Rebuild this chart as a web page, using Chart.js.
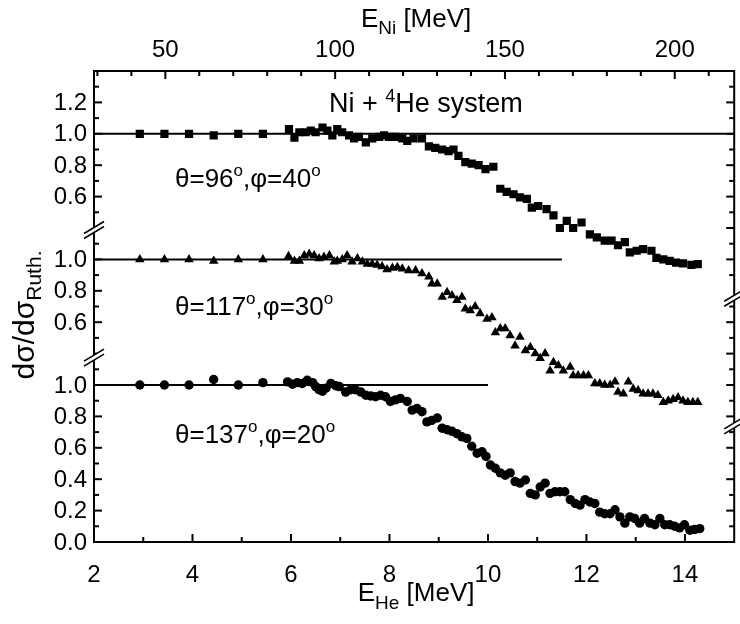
<!DOCTYPE html>
<html><head><meta charset="utf-8">
<script src="https://cdn.jsdelivr.net/npm/chart.js@4.4.1/dist/chart.umd.min.js"></script>
<style>html,body{margin:0;padding:0;background:#fff}canvas{display:block}</style>
</head><body>
<canvas id="c" width="740" height="624"></canvas>
<script>
// ---------- data ----------
const X_MIN = 2, X_MAX = 15;              // E_He range [MeV]
const NI_PER_HE = 14.5;                   // E_Ni / E_He
const X_TICK_LABELS = ['2','4','6','8','10','12','14'];
const X2_TICK_LABELS = ['50','100','150','200'];
const TOP_TICK_LABELS = ['0.6','0.8','1.0','1.2'];
const MID_TICK_LABELS = ['0.6','0.8','1.0'];
const BOT_TICK_LABELS = ['0.0','0.2','0.4','0.6','0.8','1.0'];

const lowE   = [2.93,3.43,3.93,4.43,4.93,5.43];
const sqLow  = [1.00,1.00,1.00,0.99,1.00,1.00];
const triLow = [1.00,1.00,1.00,0.99,1.00,1.00];
const cirLow = [1.00,1.00,1.00,1.035,1.00,1.015];

// theta=96, phi=40 (squares)
const sqE = [5.96,6.07,6.17,6.30,6.40,6.50,6.64,6.74,6.84,6.94,7.04,7.18,7.28,7.38,7.52,7.65,7.79,7.89,7.99,8.12,
  8.26,8.36,8.49,8.66,8.80,8.93,9.07,9.20,9.30,9.40,9.54,9.67,9.81,9.95,10.11,10.25,10.38,10.52,10.65,10.79,
  10.89,11.02,11.19,11.33,11.46,11.60,11.73,11.90,12.07,12.21,12.37,12.51,12.64,12.78,12.88,13.02,13.15,13.32,13.42,13.56,
  13.69,13.82,13.96,14.13,14.26];
const sqV = [1.03,0.976,1.01,1.01,1.02,1.01,1.04,1.02,0.99,1.03,1.01,0.99,0.97,0.98,0.945,0.97,0.98,0.99,0.98,0.98,
  0.97,0.955,0.97,0.97,0.92,0.91,0.90,0.89,0.90,0.86,0.82,0.81,0.80,0.775,0.79,0.65,0.63,0.615,0.595,0.585,
  0.53,0.54,0.52,0.48,0.40,0.445,0.40,0.435,0.36,0.34,0.32,0.32,0.29,0.31,0.245,0.255,0.265,0.255,0.21,0.20,
  0.19,0.18,0.175,0.165,0.17];

// theta=117, phi=30 (triangles)
const triE = [5.95,6.07,6.17,6.27,6.37,6.47,6.57,6.67,6.78,6.88,6.94,7.04,7.14,7.24,7.35,7.45,7.55,7.65,7.75,7.85,
  7.95,8.06,8.16,8.26,8.39,8.53,8.66,8.80,8.86,8.97,9.07,9.17,9.27,9.37,9.47,9.54,9.64,9.74,9.84,9.98,
  10.08,10.15,10.25,10.35,10.45,10.55,10.65,10.76,10.86,10.96,11.06,11.16,11.26,11.33,11.43,11.53,11.67,11.73,11.83,11.94,
  12.04,12.17,12.27,12.37,12.48,12.58,12.64,12.75,12.85,12.95,13.05,13.15,13.25,13.35,13.45,13.56,13.66,13.76,13.86,13.96,
  14.06,14.16,14.26];
const triV = [1.02,0.99,0.99,1.025,1.035,1.025,1.005,1.015,1.025,0.985,0.99,1.00,1.025,0.985,1.005,0.985,0.97,0.97,0.965,0.955,
  0.935,0.945,0.95,0.94,0.93,0.93,0.91,0.89,0.845,0.845,0.76,0.79,0.77,0.74,0.76,0.685,0.675,0.70,0.655,0.62,
  0.63,0.535,0.56,0.56,0.515,0.45,0.505,0.42,0.44,0.40,0.37,0.40,0.29,0.345,0.325,0.29,0.315,0.26,0.26,0.26,
  0.26,0.21,0.21,0.20,0.20,0.22,0.155,0.145,0.22,0.175,0.165,0.145,0.145,0.145,0.135,0.09,0.10,0.11,0.12,0.10,
  0.09,0.09,0.09];

// theta=137, phi=20 (circles)
const cirE = [5.93,6.03,6.13,6.23,6.33,6.44,6.50,6.57,6.64,6.71,6.81,6.91,6.98,7.11,7.21,7.31,7.42,7.52,7.62,7.72,
  7.82,7.92,8.02,8.12,8.22,8.36,8.46,8.56,8.66,8.76,8.86,8.97,9.07,9.17,9.27,9.37,9.47,9.57,9.67,9.78,
  9.88,9.96,10.05,10.15,10.25,10.35,10.45,10.55,10.65,10.76,10.86,10.96,11.06,11.16,11.26,11.36,11.46,11.56,11.67,11.77,
  11.87,11.97,12.07,12.17,12.27,12.37,12.48,12.58,12.68,12.78,12.88,12.98,13.08,13.18,13.29,13.39,13.49,13.59,13.69,13.79,
  13.89,13.99,14.10,14.20,14.30];
const cirV = [1.02,1.005,1.015,1.01,1.03,1.015,0.99,0.97,0.96,0.98,1.01,0.995,0.99,0.955,0.97,0.97,0.955,0.935,0.93,0.925,
  0.935,0.925,0.895,0.905,0.915,0.895,0.84,0.85,0.83,0.765,0.775,0.79,0.725,0.715,0.705,0.69,0.67,0.66,0.61,0.565,
  0.575,0.545,0.49,0.47,0.44,0.425,0.44,0.385,0.375,0.395,0.31,0.30,0.35,0.375,0.31,0.32,0.32,0.32,0.27,0.245,
  0.235,0.27,0.255,0.245,0.19,0.18,0.18,0.205,0.16,0.12,0.16,0.15,0.12,0.15,0.12,0.11,0.15,0.11,0.11,0.10,
  0.09,0.11,0.075,0.08,0.085];

// reference lines (sigma/sigma_Ruth = 1) : end energies
const refEnd = {top: 15, mid: 11.5, bot: 10};

// layer y ranges (each layer spans whole plot height)
const yRanges = {yT: [-1.6, 1.4], yM: [-0.8, 2.2], yB: [0, 3.0]};

// ---------- build ----------
const pts = (xs, ys) => xs.map((x, i) => ({x, y: ys[i]}));
const ds = (xs, ys, axis, style, r) => ({
  data: pts(xs, ys), yAxisID: axis, pointStyle: style, pointRadius: r,
  backgroundColor: '#000', borderColor: '#000', borderWidth: 0, showLine: false, order: 0
});
const refLine = (xEnd, axis) => ({
  data: [{x: X_MIN, y: 1}, {x: xEnd, y: 1}], yAxisID: axis, showLine: true,
  borderColor: '#000', borderWidth: 2, pointRadius: 0, order: 1
});

const FONT = '"Liberation Sans", Arial, sans-serif';

function rich(ctx, parts, x, y, align) {
  let w = 0;
  for (const p of parts) { ctx.font = p.size + 'px ' + FONT; w += ctx.measureText(p.t).width; }
  let cx = align === 'center' ? x - w / 2 : x;
  for (const p of parts) {
    ctx.font = p.size + 'px ' + FONT;
    ctx.fillText(p.t, cx, y + (p.dy || 0));
    cx += ctx.measureText(p.t).width;
  }
}

const decor = {
  id: 'decor',
  afterDraw(chart) {
    const {ctx, chartArea: a, scales: s} = chart;
    ctx.save();
    ctx.strokeStyle = '#000'; ctx.fillStyle = '#000'; ctx.lineWidth = 2;
    const line = (x1, y1, x2, y2) => { ctx.beginPath(); ctx.moveTo(x1, y1); ctx.lineTo(x2, y2); ctx.stroke(); };
    ctx.strokeRect(a.left, a.top, a.right - a.left, a.bottom - a.top);

    // bottom ticks (E_He)
    for (let v = X_MIN + 1; v < X_MAX; v++) {
      const px = s.x.getPixelForValue(v);
      line(px, a.bottom, px, a.bottom - (v % 2 === 0 ? 8 : 5));
    }
    // top ticks (E_Ni)
    for (let v = 30; v <= 210; v += 10) {
      const px = s.x2.getPixelForValue(v);
      line(px, a.top, px, a.top + (v % 50 === 0 ? 8 : 5));
    }
    // y ticks per layer
    const yt = [
      {id: 'yT', left: [5, 13], right: [1, 13]},
      {id: 'yM', left: [4, 11], right: [0, 7]},
      {id: 'yB', left: [1, 11], right: [1, 7]},
    ];
    for (const p of yt) {
      for (let k = p.left[0]; k <= p.left[1]; k++) {
        const py = s[p.id].getPixelForValue(k / 10);
        line(a.left, py, a.left + (k % 2 === 0 ? 8 : 5), py);
      }
      for (let k = p.right[0]; k <= p.right[1]; k++) {
        const py = s[p.id].getPixelForValue(k / 10);
        line(a.right, py, a.right - (k % 2 === 0 ? 8 : 5), py);
      }
    }
    // axis breaks
    const brk = (x, y) => {
      const dx = 10, dy = 6, g = 5;
      ctx.fillStyle = '#fff';
      ctx.beginPath();
      ctx.moveTo(x - dx, y + dy - g / 2); ctx.lineTo(x + dx, y - dy - g / 2);
      ctx.lineTo(x + dx, y - dy + g / 2); ctx.lineTo(x - dx, y + dy + g / 2);
      ctx.closePath(); ctx.fill();
      ctx.lineWidth = 1.6;
      line(x - dx, y + dy - g / 2, x + dx, y - dy - g / 2);
      line(x - dx, y + dy + g / 2, x + dx, y - dy + g / 2);
      ctx.lineWidth = 2; ctx.fillStyle = '#000';
    };
    brk(a.left, s.yT.getPixelForValue(0.4) + 2);
    brk(a.left, s.yM.getPixelForValue(0.4) + 4);
    brk(a.right, s.yT.getPixelForValue(0) + 7);
    brk(a.right, s.yM.getPixelForValue(0) + 9);

    // tick labels
    ctx.fillStyle = '#000';
    ctx.font = '24px ' + FONT;
    ctx.textAlign = 'right'; ctx.textBaseline = 'middle';
    const yl = [['yT', TOP_TICK_LABELS], ['yM', MID_TICK_LABELS], ['yB', BOT_TICK_LABELS]];
    for (const [id, labs] of yl) for (const t of labs)
      ctx.fillText(t, a.left - 7, s[id].getPixelForValue(parseFloat(t)) + 1);
    ctx.textAlign = 'center'; ctx.textBaseline = 'alphabetic';
    for (const t of X_TICK_LABELS) ctx.fillText(t, s.x.getPixelForValue(parseFloat(t)), 582);
    for (const t of X2_TICK_LABELS) ctx.fillText(t, s.x2.getPixelForValue(parseFloat(t)), 57);

    // axis titles
    ctx.textAlign = 'left';
    const mid = (a.left + a.right) / 2 + 2;
    rich(ctx, [{t: 'E', size: 26}, {t: 'He', size: 19, dy: 8}, {t: ' [MeV]', size: 26}], mid, 601, 'center');
    rich(ctx, [{t: 'E', size: 26}, {t: 'Ni', size: 19, dy: 7}, {t: ' [MeV]', size: 26}], mid, 27, 'center');
    ctx.save();
    ctx.translate(34, 315); ctx.rotate(-Math.PI / 2);
    rich(ctx, [{t: 'd\u03C3/d\u03C3', size: 30}, {t: 'Ruth.', size: 21, dy: 7}], 0, 0, 'center');
    ctx.restore();

    // annotations
    rich(ctx, [{t: 'Ni + ', size: 27}, {t: '4', size: 18, dy: -10}, {t: 'He system', size: 27}], 329, 112, 'left');
    const ang = (th, ph, y) => rich(ctx, [
      {t: '\u03B8=' + th, size: 26}, {t: 'o', size: 17, dy: -11},
      {t: ',\u03C6=' + ph, size: 26}, {t: 'o', size: 17, dy: -11}], 175, y, 'left');
    ang('96', '40', 187);
    ang('117', '30', 315);
    ang('137', '20', 443);
    ctx.restore();
  }
};

const yScale = (r) => ({type: 'linear', min: r[0], max: r[1], display: false});

new Chart(document.getElementById('c'), {
  type: 'scatter',
  data: {
    datasets: [
      refLine(refEnd.top, 'yT'), refLine(refEnd.mid, 'yM'), refLine(refEnd.bot, 'yB'),
      ds(lowE.concat(sqE), sqLow.concat(sqV), 'yT', 'rect', 5.8),
      ds(lowE.concat(triE), triLow.concat(triV), 'yM', 'triangle', 5.5),
      ds(lowE.concat(cirE), cirLow.concat(cirV), 'yB', 'circle', 4.7),
    ]
  },
  options: {
    responsive: false, animation: false, devicePixelRatio: 1,
    layout: {padding: {left: 94, right: 4, top: 71, bottom: 82}},
    plugins: {legend: {display: false}, tooltip: {enabled: false}},
    scales: {
      x: {type: 'linear', min: X_MIN, max: X_MAX, display: false},
      x2: {type: 'linear', axis: 'x', min: X_MIN * NI_PER_HE, max: X_MAX * NI_PER_HE, display: false},
      yT: yScale(yRanges.yT), yM: yScale(yRanges.yM), yB: yScale(yRanges.yB)
    }
  },
  plugins: [decor]
});
</script>
</body></html>
